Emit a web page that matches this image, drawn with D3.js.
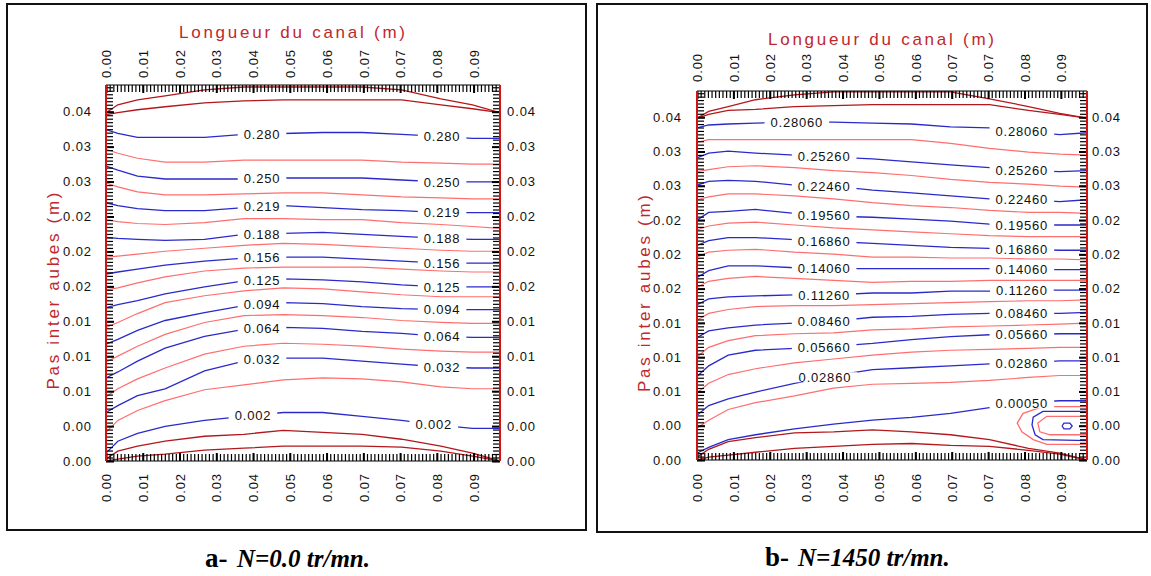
<!DOCTYPE html>
<html>
<head>
<meta charset="utf-8">
<script src="https://cdn.jsdelivr.net/npm/d3@7"></script>
<style>
  body { margin: 0; background: #fff; }
  svg { display: block; }
</style>
</head>
<body>
<svg id="chart" width="1151" height="576"></svg>
<script>
// positions along the channel (m) where every contour is sampled
const xStations = [0, 0.003, 0.008, 0.015, 0.025, 0.035, 0.045, 0.055, 0.065, 0.075, 0.085, 0.093, 0.1];

const xTickLabels = ["0.00", "0.01", "0.02", "0.03", "0.04", "0.05", "0.06", "0.07", "0.07", "0.08", "0.09"];
const yTickLabels = ["0.00", "0.00", "0.01", "0.01", "0.01", "0.02", "0.02", "0.02", "0.03", "0.03", "0.04"];
const xTickStep = 0.00933, yTickStep = 0.00353;
const xMax = 0.1, yMax = 0.038;

// ---- panel a : N = 0 tr/mn (y in m at each station) ----
const wallA = [
  [0.0352, 0.0360, 0.0365, 0.0369, 0.0375, 0.0378, 0.0378, 0.0378, 0.0378, 0.0375, 0.0366, 0.0360, 0.0352],
  [0.0350, 0.0352, 0.0355, 0.0358, 0.0362, 0.0364, 0.0365, 0.0365, 0.0365, 0.0365, 0.0360, 0.0356, 0.0352],
  [0.0002, 0.0010, 0.0015, 0.0020, 0.0025, 0.0027, 0.0031, 0.0029, 0.0027, 0.0022, 0.0015, 0.0008, 0.0000],
  [0.0000, 0.0002, 0.0005, 0.0007, 0.0011, 0.0013, 0.0015, 0.0015, 0.0015, 0.0014, 0.0010, 0.0005, 0.0000]
];
const levelsA = ["0.280", "0.250", "0.219", "0.188", "0.156", "0.125", "0.094", "0.064", "0.032", "0.002"];
const blueA = [
  [0.0335, 0.0331, 0.0327, 0.0327, 0.0327, 0.0330, 0.0331, 0.0332, 0.0332, 0.0330, 0.0328, 0.0326, 0.0326],
  [0.0298, 0.0294, 0.0288, 0.0285, 0.0285, 0.0285, 0.0286, 0.0286, 0.0286, 0.0284, 0.0282, 0.0282, 0.0282],
  [0.0261, 0.0258, 0.0255, 0.0253, 0.0253, 0.0256, 0.0258, 0.0256, 0.0254, 0.0253, 0.0251, 0.0251, 0.0251],
  [0.0226, 0.0225, 0.0224, 0.0223, 0.0224, 0.0229, 0.0230, 0.0231, 0.0229, 0.0227, 0.0225, 0.0224, 0.0224],
  [0.0189, 0.0191, 0.0194, 0.0198, 0.0202, 0.0205, 0.0206, 0.0206, 0.0204, 0.0202, 0.0200, 0.0200, 0.0200],
  [0.0155, 0.0158, 0.0162, 0.0169, 0.0176, 0.0182, 0.0184, 0.0183, 0.0181, 0.0178, 0.0176, 0.0176, 0.0176],
  [0.0118, 0.0123, 0.0132, 0.0142, 0.0150, 0.0157, 0.0160, 0.0159, 0.0156, 0.0154, 0.0153, 0.0153, 0.0153],
  [0.0084, 0.0090, 0.0101, 0.0114, 0.0126, 0.0133, 0.0135, 0.0134, 0.0131, 0.0129, 0.0126, 0.0125, 0.0125],
  [0.0049, 0.0056, 0.0066, 0.0073, 0.0091, 0.0101, 0.0104, 0.0104, 0.0101, 0.0098, 0.0095, 0.0094, 0.0094],
  [0.0008, 0.0020, 0.0028, 0.0035, 0.0041, 0.0045, 0.0049, 0.0049, 0.0045, 0.0041, 0.0036, 0.0033, 0.0033]
];
const redA = [
  [0.0315, 0.0311, 0.0306, 0.0302, 0.0302, 0.0304, 0.0304, 0.0304, 0.0304, 0.0302, 0.0301, 0.0300, 0.0300],
  [0.0281, 0.0277, 0.0272, 0.0269, 0.0269, 0.0270, 0.0271, 0.0271, 0.0269, 0.0267, 0.0266, 0.0265, 0.0265],
  [0.0244, 0.0242, 0.0240, 0.0239, 0.0241, 0.0245, 0.0245, 0.0244, 0.0244, 0.0241, 0.0239, 0.0237, 0.0235],
  [0.0206, 0.0207, 0.0209, 0.0212, 0.0215, 0.0218, 0.0220, 0.0219, 0.0217, 0.0215, 0.0213, 0.0212, 0.0212],
  [0.0173, 0.0175, 0.0180, 0.0186, 0.0192, 0.0195, 0.0196, 0.0196, 0.0196, 0.0194, 0.0192, 0.0191, 0.0191],
  [0.0135, 0.0140, 0.0149, 0.0160, 0.0167, 0.0172, 0.0175, 0.0174, 0.0171, 0.0168, 0.0166, 0.0166, 0.0166],
  [0.0100, 0.0106, 0.0116, 0.0128, 0.0140, 0.0147, 0.0148, 0.0147, 0.0145, 0.0142, 0.0140, 0.0139, 0.0139],
  [0.0065, 0.0073, 0.0083, 0.0094, 0.0108, 0.0116, 0.0119, 0.0118, 0.0116, 0.0113, 0.0111, 0.0110, 0.0110],
  [0.0029, 0.0041, 0.0051, 0.0061, 0.0072, 0.0077, 0.0082, 0.0084, 0.0083, 0.0080, 0.0075, 0.0073, 0.0073]
];
const labelXLeftA = [0.0396, 0.0396, 0.0396, 0.0396, 0.0396, 0.0396, 0.0396, 0.0396, 0.0396, 0.0373];
const labelXRightA = [0.0853, 0.0853, 0.0853, 0.0853, 0.0853, 0.0853, 0.0853, 0.0853, 0.0853, 0.0832];

// ---- panel b : N = 1450 tr/mn ----
const wallB = [
  [0.0352, 0.0359, 0.0364, 0.0371, 0.0376, 0.0379, 0.0379, 0.0379, 0.0379, 0.0372, 0.0364, 0.0357, 0.0352],
  [0.0352, 0.0356, 0.0360, 0.0361, 0.0364, 0.0365, 0.0366, 0.0366, 0.0366, 0.0366, 0.0360, 0.0356, 0.0352],
  [0.0003, 0.0011, 0.0019, 0.0023, 0.0028, 0.0029, 0.0031, 0.0029, 0.0026, 0.0021, 0.0012, 0.0007, 0.0000],
  [0.0000, 0.0003, 0.0005, 0.0008, 0.0012, 0.0014, 0.0016, 0.0017, 0.0015, 0.0014, 0.0010, 0.0006, 0.0000]
];
const levelsB = ["0.28060", "0.25260", "0.22460", "0.19560", "0.16860", "0.14060", "0.11260", "0.08460", "0.05660", "0.02860", "0.00050"];
const blueB = [
  [0.0342, 0.0345, 0.0346, 0.0347, 0.0348, 0.0348, 0.0347, 0.0346, 0.0343, 0.0342, 0.0338, 0.0335, 0.0337],
  [0.0311, 0.0316, 0.0318, 0.0316, 0.0314, 0.0312, 0.0310, 0.0307, 0.0304, 0.0301, 0.0298, 0.0297, 0.0298],
  [0.0283, 0.0287, 0.0288, 0.0287, 0.0283, 0.0282, 0.0278, 0.0275, 0.0272, 0.0269, 0.0268, 0.0266, 0.0268],
  [0.0247, 0.0255, 0.0256, 0.0258, 0.0254, 0.0251, 0.0250, 0.0248, 0.0246, 0.0243, 0.0242, 0.0242, 0.0242],
  [0.0221, 0.0226, 0.0229, 0.0229, 0.0227, 0.0225, 0.0223, 0.0221, 0.0219, 0.0218, 0.0217, 0.0216, 0.0216],
  [0.0188, 0.0195, 0.0200, 0.0200, 0.0198, 0.0197, 0.0197, 0.0197, 0.0197, 0.0197, 0.0196, 0.0196, 0.0196],
  [0.0160, 0.0166, 0.0168, 0.0169, 0.0170, 0.0170, 0.0172, 0.0172, 0.0174, 0.0174, 0.0175, 0.0175, 0.0175],
  [0.0126, 0.0133, 0.0136, 0.0139, 0.0141, 0.0143, 0.0147, 0.0148, 0.0150, 0.0151, 0.0151, 0.0151, 0.0152],
  [0.0086, 0.0097, 0.0108, 0.0113, 0.0115, 0.0117, 0.0120, 0.0124, 0.0127, 0.0129, 0.0129, 0.0130, 0.0130],
  [0.0046, 0.0056, 0.0063, 0.0070, 0.0079, 0.0087, 0.0093, 0.0095, 0.0097, 0.0099, 0.0100, 0.0102, 0.0102],
  [0.0007, 0.0013, 0.0021, 0.0026, 0.0032, 0.0037, 0.0041, 0.0044, 0.0048, 0.0054, 0.0059, 0.0061, 0.0061]
];
const redB = [
  [0.0327, 0.0330, 0.0330, 0.0330, 0.0330, 0.0330, 0.0330, 0.0330, 0.0326, 0.0321, 0.0317, 0.0315, 0.0314],
  [0.0297, 0.0299, 0.0302, 0.0303, 0.0301, 0.0298, 0.0296, 0.0293, 0.0289, 0.0286, 0.0284, 0.0282, 0.0281],
  [0.0268, 0.0271, 0.0274, 0.0274, 0.0272, 0.0269, 0.0265, 0.0262, 0.0260, 0.0257, 0.0255, 0.0255, 0.0254],
  [0.0237, 0.0241, 0.0244, 0.0245, 0.0242, 0.0239, 0.0237, 0.0235, 0.0233, 0.0231, 0.0230, 0.0230, 0.0230],
  [0.0209, 0.0214, 0.0216, 0.0217, 0.0214, 0.0212, 0.0209, 0.0209, 0.0208, 0.0208, 0.0207, 0.0207, 0.0206],
  [0.0178, 0.0184, 0.0187, 0.0189, 0.0187, 0.0185, 0.0183, 0.0184, 0.0184, 0.0185, 0.0185, 0.0185, 0.0185],
  [0.0144, 0.0151, 0.0155, 0.0158, 0.0159, 0.0159, 0.0160, 0.0161, 0.0162, 0.0163, 0.0164, 0.0164, 0.0165],
  [0.0106, 0.0116, 0.0123, 0.0128, 0.0130, 0.0131, 0.0134, 0.0135, 0.0137, 0.0138, 0.0139, 0.0140, 0.0141],
  [0.0069, 0.0079, 0.0088, 0.0094, 0.0100, 0.0104, 0.0108, 0.0111, 0.0113, 0.0114, 0.0115, 0.0116, 0.0116],
  [0.0033, 0.0041, 0.0052, 0.0059, 0.0066, 0.0074, 0.0078, 0.0079, 0.0080, 0.0082, 0.0085, 0.0087, 0.0087]
];
const labelXLeftB = [0.0256, 0.0326, 0.0326, 0.0326, 0.0326, 0.0326, 0.0326, 0.0326, 0.0326, 0.0328, null];
const labelXRightB = [0.0833, 0.0833, 0.0833, 0.0833, 0.0833, 0.0833, 0.0833, 0.0833, 0.0833, 0.0833, 0.0833];

// recirculation cell near the outlet, panel b ([x, y] in m)
const loopRedOuterB = [[0.1, 0.0055], [0.0887, 0.0055], [0.0836, 0.0048], [0.0821, 0.0038], [0.0833, 0.0029], [0.0862, 0.0021], [0.0897, 0.0016], [0.1, 0.0016]];
const loopBlueB = [[0.1, 0.0050], [0.0887, 0.0050], [0.0862, 0.0044], [0.0859, 0.0036], [0.0867, 0.0026], [0.0887, 0.0021], [0.1, 0.0020]];
const loopRedInnerB = [[0.1, 0.0045], [0.0897, 0.0045], [0.0874, 0.0038], [0.0879, 0.0029], [0.0905, 0.0026], [0.1, 0.0026]];
const loopBlueInnerB = [[0.0936, 0.0035], [0.0941, 0.0038], [0.0956, 0.0038], [0.0962, 0.0035], [0.0956, 0.0032], [0.0941, 0.0032], [0.0936, 0.0035]];

const COL = { wall: "#b3171c", blue: "#2a2acc", red: "#ff6e6e", title: "#c0272d", border: "#d01414" };
const SANS = "'Liberation Sans', Arial, sans-serif";
const SERIF = "'Liberation Serif', 'Times New Roman', serif";

const svg = d3.select("#chart");

const panels = [
  {
    id: "a", box: { x: 7, y: 4, w: 579, h: 526 }, plot: { x: 106, y: 85, w: 394, h: 376 },
    titleY: 38, gaps: { top: 7, bottom: 12, left: 14, right: 7 },
    walls: wallA, blues: blueA, reds: redA, levels: levelsA, labLeft: labelXLeftA, labRight: labelXRightA,
    loops: [],
    caption: { x: 205, x2: 237, y: 567, letter: "a-", text: "N=0.0 tr/mn." }
  },
  {
    id: "b", box: { x: 597, y: 4, w: 550, h: 528 }, plot: { x: 697, y: 91, w: 390, h: 369 },
    titleY: 45, gaps: { top: 9, bottom: 13, left: 15, right: 5 },
    walls: wallB, blues: blueB, reds: redB, levels: levelsB, labLeft: labelXLeftB, labRight: labelXRightB,
    loops: [
      { pts: loopRedOuterB, kind: "red" }, { pts: loopBlueB, kind: "blue" },
      { pts: loopRedInnerB, kind: "red" }, { pts: loopBlueInnerB, kind: "blue" }
    ],
    caption: { x: 765, x2: 798, y: 566, letter: "b-", text: "N=1450 tr/mn." }
  }
];

panels.forEach(drawPanel);

function drawPanel(p) {
  const P = p.plot;
  const x = d3.scaleLinear().domain([0, xMax]).range([P.x, P.x + P.w]);
  const y = d3.scaleLinear().domain([0, yMax]).range([P.y + P.h, P.y]);
  const g = svg.append("g").attr("id", "panel-" + p.id);

  g.append("rect")
    .attr("x", p.box.x).attr("y", p.box.y).attr("width", p.box.w).attr("height", p.box.h)
    .attr("fill", "none").attr("stroke", "#111").attr("stroke-width", 2);

  // contours, clipped to the plot
  g.append("clipPath").attr("id", "clip-" + p.id)
    .append("rect").attr("x", P.x).attr("y", P.y).attr("width", P.w).attr("height", P.h);
  const lines = g.append("g").attr("clip-path", "url(#clip-" + p.id + ")").attr("fill", "none");

  const line = d3.line().x((d, i) => x(xStations[i])).y(d => y(d));
  const loopLine = d3.line().x(d => x(d[0])).y(d => y(d[1]));

  lines.selectAll(".red").data(p.reds).enter().append("path")
    .attr("d", line).attr("stroke", COL.red).attr("stroke-width", 1.2);
  lines.selectAll(".wall").data(p.walls).enter().append("path")
    .attr("d", line).attr("stroke", COL.wall).attr("stroke-width", 1.3);
  lines.selectAll(".blue").data(p.blues).enter().append("path")
    .attr("d", line).attr("stroke", COL.blue).attr("stroke-width", 1.3);
  lines.selectAll(".loop").data(p.loops).enter().append("path")
    .attr("d", d => loopLine(d.pts)).attr("stroke", d => COL[d.kind]).attr("stroke-width", 1.3);

  // contour labels with a white gap in the line
  const labs = [];
  p.blues.forEach((vals, i) => {
    const interp = d3.scaleLinear().domain(xStations).range(vals);
    [p.labLeft[i], p.labRight[i]].forEach(lx => {
      if (lx != null) labs.push({ x: x(lx), y: y(interp(lx)), t: p.levels[i] });
    });
  });
  const lg = g.append("g");
  labs.forEach(d => {
    const t = lg.append("text")
      .attr("x", d.x).attr("y", d.y).attr("dy", "0.36em")
      .attr("text-anchor", "middle")
      .attr("font-family", SANS).attr("font-size", 13).attr("letter-spacing", 0.8)
      .attr("fill", "#111").text(d.t);
    const w = t.node().getComputedTextLength();
    lg.insert("rect", () => t.node())
      .attr("x", d.x - w / 2 - 6).attr("y", d.y - 5).attr("width", w + 12).attr("height", 10)
      .attr("fill", "#fff");
  });

  // frame of the plot
  const xMajor = xTickLabels.map((_, i) => i * xTickStep);
  const yMajor = yTickLabels.map((_, i) => i * yTickStep);
  const xMinor = d3.range(0, xMax + 1e-9, xTickStep / 10);
  const yMinor = d3.range(0, yMax + 1e-9, yTickStep / 10);

  const ticks = g.append("g");
  const tickSets = [
    [d3.axisTop(x), xMinor, xMajor, `translate(0,${P.y})`],
    [d3.axisBottom(x), xMinor, xMajor, `translate(0,${P.y + P.h})`],
    [d3.axisLeft(y), yMinor, yMajor, `translate(${P.x},0)`],
    [d3.axisRight(y), yMinor, yMajor, `translate(${P.x + P.w},0)`]
  ];
  tickSets.forEach(([ax, minor, major, tr]) => {
    ticks.append("g").attr("transform", tr)
      .call(ax.tickValues(minor).tickSize(-7).tickFormat(""))
      .call(s => s.select(".domain").remove())
      .selectAll("line").attr("stroke", "#000").attr("stroke-width", 1.2);
    ticks.append("g").attr("transform", tr)
      .call(ax.tickValues(major).tickSize(-8).tickFormat(""))
      .call(s => s.select(".domain").remove())
      .selectAll("line").attr("stroke", "#000").attr("stroke-width", 2);
  });

  g.append("line").attr("x1", P.x).attr("x2", P.x + P.w).attr("y1", P.y).attr("y2", P.y)
    .attr("stroke", "#000").attr("stroke-width", 1.2);
  g.append("line").attr("x1", P.x).attr("x2", P.x + P.w).attr("y1", P.y + P.h).attr("y2", P.y + P.h)
    .attr("stroke", "#000").attr("stroke-width", 1.2);
  g.append("line").attr("x1", P.x).attr("x2", P.x).attr("y1", P.y).attr("y2", P.y + P.h)
    .attr("stroke", COL.border).attr("stroke-width", 2);
  g.append("line").attr("x1", P.x + P.w).attr("x2", P.x + P.w).attr("y1", P.y).attr("y2", P.y + P.h)
    .attr("stroke", COL.border).attr("stroke-width", 2);

  // tick labels
  const styleText = s => s.selectAll("text")
    .attr("font-family", SANS).attr("font-size", 13).attr("letter-spacing", 0.9).attr("fill", "#111");

  g.append("g").attr("transform", `translate(0,${P.y})`)
    .call(d3.axisTop(x).tickValues(xMajor).tickSize(0).tickFormat((d, i) => xTickLabels[i]))
    .call(s => s.select(".domain").remove())
    .call(styleText)
    .selectAll("text")
    .attr("transform", "rotate(-90)").attr("text-anchor", "start")
    .attr("x", p.gaps.top).attr("y", 0).attr("dy", "0.36em");

  g.append("g").attr("transform", `translate(0,${P.y + P.h})`)
    .call(d3.axisBottom(x).tickValues(xMajor).tickSize(0).tickFormat((d, i) => xTickLabels[i]))
    .call(s => s.select(".domain").remove())
    .call(styleText)
    .selectAll("text")
    .attr("transform", "rotate(-90)").attr("text-anchor", "end")
    .attr("x", -p.gaps.bottom).attr("y", 0).attr("dy", "0.36em");

  g.append("g").attr("transform", `translate(${P.x},0)`)
    .call(d3.axisLeft(y).tickValues(yMajor).tickSize(0).tickPadding(p.gaps.left)
      .tickFormat((d, i) => yTickLabels[i]))
    .call(s => s.select(".domain").remove())
    .call(styleText);

  g.append("g").attr("transform", `translate(${P.x + P.w},0)`)
    .call(d3.axisRight(y).tickValues(yMajor).tickSize(0).tickPadding(p.gaps.right)
      .tickFormat((d, i) => yTickLabels[i]))
    .call(s => s.select(".domain").remove())
    .call(styleText);

  // axis titles
  g.append("text")
    .attr("x", P.x + P.w / 2 - 11).attr("y", p.titleY)
    .attr("text-anchor", "middle").attr("font-family", SANS).attr("font-size", 17)
    .attr("fill", COL.title).attr("textLength", 226).attr("lengthAdjust", "spacing")
    .text("Longueur du canal (m)");

  g.append("text")
    .attr("transform", `translate(${P.x - 47},${P.y + P.h / 2 + 18}) rotate(-90)`)
    .attr("text-anchor", "middle").attr("font-family", SANS).attr("font-size", 17)
    .attr("fill", COL.title).attr("textLength", 197).attr("lengthAdjust", "spacing")
    .text("Pas inter aubes (m)");

  // caption under the panel
  svg.append("text")
    .attr("x", p.caption.x).attr("y", p.caption.y)
    .attr("font-family", SERIF).attr("font-weight", "bold").attr("font-size", 27)
    .attr("fill", "#000").text(p.caption.letter);
  svg.append("text")
    .attr("x", p.caption.x2).attr("y", p.caption.y)
    .attr("font-family", SERIF).attr("font-weight", "bold").attr("font-style", "italic")
    .attr("font-size", 25).attr("fill", "#000")
    .text(p.caption.text);
}
</script>
</body>
</html>
